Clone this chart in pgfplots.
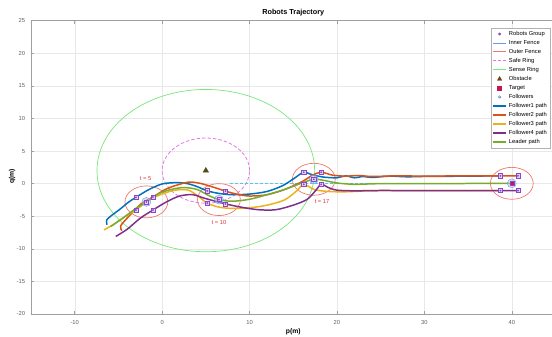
\documentclass[border=0pt]{standalone}
\usepackage{pgfplots}
\pgfplotsset{compat=1.18}
\usepackage{fontspec}
\setmainfont{Liberation Sans}
\definecolor{fone}{RGB}{0,114,189}
\definecolor{ftwo}{RGB}{217,83,25}
\definecolor{fthree}{RGB}{237,177,32}
\definecolor{ffour}{RGB}{126,47,142}
\definecolor{lead}{RGB}{119,172,48}
\definecolor{robotc}{RGB}{140,70,200}
\definecolor{cInner}{RGB}{110,150,235}
\definecolor{cOuter}{RGB}{240,120,110}
\definecolor{cSafe}{RGB}{230,120,230}
\definecolor{cSense}{RGB}{120,230,120}
\definecolor{obst}{RGB}{85,75,20}
\definecolor{targ}{RGB}{200,20,80}
\definecolor{foll}{RGB}{40,120,190}
\definecolor{tlab}{RGB}{225,50,50}
\definecolor{cyanref}{RGB}{80,200,230}
\pgfplotsset{
  mylegline/.style={legend image code/.code={\draw[##1] (0bp,0bp) -- (13bp,0bp);}},
  mylegmark/.style={legend image code/.code={\draw[only marks,##1] plot coordinates {(6.5bp,0bp)};}},
}
\begin{document}
\begin{tikzpicture}
\begin{axis}[
  scale only axis, width=524.5bp, height=293.3bp,
  xmin=-15, xmax=45, ymin=-20, ymax=25,
  xtick={-10,0,...,40}, ytick={-20,-15,...,25},
  grid=major, major grid style={gray!18, line width=0.4pt},
  axis line style={gray!75, line width=0.6pt},
  tick style={gray!75, line width=0.5pt},
  tick align=inside, major tick length=3bp,
  tick label style={font=\fontsize{5.8}{6.5}\selectfont, text=gray!75!black},
  xticklabel style={yshift=-3bp},
  yticklabel style={xshift=-2.5bp},
  /pgf/number format/assume math mode=true,
  xlabel={\textbf{p(m)}}, ylabel={\textbf{q(m)}},
  xlabel style={font=\fontsize{6.8}{7.5}\selectfont, at={(axis description cs:0.5,0)}, anchor=north, yshift=-14bp, inner sep=0pt},
  ylabel style={font=\fontsize{6.8}{7.5}\selectfont, at={(axis description cs:-0.036,0.47)}, anchor=center, inner sep=0pt},
  legend style={at={(1,1)}, anchor=north east, xshift=-5.5bp, yshift=-7.3bp,
    font=\fontsize{5.8}{6.5}\selectfont, draw=gray!60, line width=0.4pt,
    inner sep=1pt, row sep=-0.6pt, cells={anchor=west}},
  clip=true,
]
% rings
\draw[cSense, line width=0.7pt] (axis cs:5,2) ellipse [x radius=12.45, y radius=12.45];
\draw[cSafe, line width=0.8pt, dash pattern=on 3.5bp off 2bp] (axis cs:5,2) ellipse [x radius=5, y radius=5];
\draw[cOuter, line width=0.7pt] (axis cs:-1.8,-2.8) ellipse [x radius=2.45, y radius=2.45];
\draw[cOuter, line width=0.7pt] (axis cs:6.5,-2.45) ellipse [x radius=2.45, y radius=2.45];
\draw[cOuter, line width=0.7pt] (axis cs:17.35,0.67) ellipse [x radius=2.45, y radius=2.45];
\draw[cOuter, line width=0.7pt] (axis cs:40,0.05) ellipse [x radius=2.45, y radius=2.45];
% reference dashed line
\addplot[forget plot, cyanref, line width=0.7pt, dash pattern=on 3bp off 2bp] coordinates {(7.8,0) (40,0)};
% Follower1
\addplot[forget plot, fone, line width=1.5pt, smooth, tension=0.5] coordinates {
(-6.3,-6.3) (-6.35,-5.6) (-5.8,-4.9) (-4.8,-3.9) (-3.9,-2.9) (-3.0,-2.1) (-1.5,-0.9) (0,-0.05) (1.5,0.15) (2.7,0.05) (3.8,-0.35) (5.16,-1.1) (6.5,-1.5) (8,-1.7) (10,-1.6) (12,-1.2) (13.8,-0.3) (15.2,0.9) (16.2,1.75) (17.2,1.35) (18.5,1.0) (20,0.9) (21,1.2) (22,0.9) (23,1.1) (24,0.95) (26,1.15) (28,1.05) (30,1.1) (35,1.15) (38.7,1.2)};
% Follower2
\addplot[forget plot, ftwo, line width=1.5pt, smooth, tension=0.5] coordinates {
(-4.6,-7.2) (-4.75,-6.5) (-3.8,-5.0) (-2.4,-3.1) (-1.05,-2.05) (0.5,-0.8) (2,-0.1) (3.2,0.25) (4.5,0) (6,-0.6) (7.25,-1.15) (8.5,-1.6) (10,-1.9) (12,-1.7) (14,-0.9) (16,0.3) (17.2,1.3) (18.2,1.75) (19.5,1.3) (21,1.15) (22.5,1.25) (24,1.1) (27,1.2) (30,1.15) (35,1.2) (40.7,1.2)};
% Follower3
\addplot[forget plot, fthree, line width=1.5pt, smooth, tension=0.5] coordinates {
(-6.65,-7.1) (-5.5,-6.2) (-4.2,-5.0) (-3.0,-4.05) (-1.5,-2.5) (0,-1.6) (1.5,-1.0) (3,-1.0) (4.2,-2.0) (5.16,-3.0) (6.5,-3.6) (8,-3.8) (10,-3.7) (12,-3.3) (14,-2.5) (15.4,-1.1) (16.2,-0.1) (17.4,-0.9) (19,-1.2) (21,-1.25) (24,-1.1) (30,-1.07) (38.7,-1.07)};
% Follower4
\addplot[forget plot, ffour, line width=1.5pt, smooth, tension=0.5] coordinates {
(-5.3,-8.1) (-4,-7.0) (-2.5,-5.3) (-1.05,-4.05) (0.5,-2.8) (2,-1.9) (3.5,-1.7) (5,-2.3) (7.25,-3.1) (9,-3.6) (11,-4.0) (13,-4.0) (15,-3.3) (16.6,-2.4) (17.6,-1.0) (18.2,-0.1) (19,-0.6) (20,-1.0) (22,-1.1) (25,-1.05) (30,-1.07) (40.7,-1.07)};
% Leader
\addplot[forget plot, lead, line width=1.5pt, smooth, tension=0.5] coordinates {
(-5.9,-6.6) (-4.5,-5.3) (-3,-3.8) (-1.8,-2.8) (-0.5,-1.6) (1,-0.9) (2.5,-0.6) (4,-0.9) (5.3,-1.8) (6.5,-2.45) (8,-2.7) (10,-2.4) (12,-1.7) (14,-0.9) (16,0.1) (17.35,0.67) (18.5,0.5) (20,0.1) (22,-0.1) (25,0) (30,0) (40,0.05)};
% inner fence / followers blobs at leader
\addplot[forget plot, only marks, mark=*, mark size=4.5pt, mark options={draw=cInner, fill=cInner!60, fill opacity=0.45, line width=0.4pt}] coordinates {(-1.8,-2.8) (6.5,-2.45) (17.35,0.67) (40,0.05)};
% robots group squares
\addplot[forget plot, only marks, mark=square*, mark size=2.1pt, mark options={draw=robotc, fill=robotc!25, line width=0.5pt}] coordinates {
(-3.0,-2.1) (-1.05,-2.05) (-3.0,-4.05) (-1.05,-4.05) (-1.8,-2.8)
(5.16,-1.1) (7.25,-1.15) (5.16,-3.0) (7.25,-3.1) (6.5,-2.45)
(16.2,1.75) (18.2,1.75) (16.2,-0.1) (18.2,-0.1) (17.35,0.67)
(38.7,1.2) (40.7,1.2) (38.7,-1.07) (40.7,-1.07)};
\addplot[forget plot, only marks, mark=*, mark size=0.7pt, robotc] coordinates {
(-3.0,-2.1) (-1.05,-2.05) (-3.0,-4.05) (-1.05,-4.05) (-1.8,-2.8)
(5.16,-1.1) (7.25,-1.15) (5.16,-3.0) (7.25,-3.1) (6.5,-2.45)
(16.2,1.75) (18.2,1.75) (16.2,-0.1) (18.2,-0.1) (17.35,0.67)
(38.7,1.2) (40.7,1.2) (38.7,-1.07) (40.7,-1.07)};
% target
\addplot[forget plot, only marks, mark=square*, mark size=2.1pt, mark options={draw=robotc, fill=targ}] coordinates {(40,0.05)};
% obstacle
\addplot[forget plot, only marks, mark=triangle*, mark size=3.2pt, mark options={draw=obst, fill=obst}] coordinates {(5,2)};
% time labels
\node[text=tlab, font=\fontsize{5.8}{6.5}\selectfont] at (axis cs:-1.9,0.85) {t = 5};
\node[text=tlab, font=\fontsize{5.8}{6.5}\selectfont] at (axis cs:6.5,-6.0) {t = 10};
\node[text=tlab, font=\fontsize{5.8}{6.5}\selectfont] at (axis cs:18.3,-2.75) {t = 17};
% legend
\addlegendimage{mylegmark, mark=*, mark size=1.2pt, mark options={draw=robotc, fill=robotc}}
\addlegendentry{Robots Group}
\addlegendimage{mylegline, draw=cInner, line width=0.9pt}
\addlegendentry{Inner Fence}
\addlegendimage{mylegline, draw=cOuter, line width=0.9pt}
\addlegendentry{Outer Fence}
\addlegendimage{mylegline, draw=cSafe, line width=0.9pt, dash pattern=on 3bp off 2bp}
\addlegendentry{Safe Ring}
\addlegendimage{mylegline, draw=cSense, line width=0.9pt}
\addlegendentry{Sense Ring}
\addlegendimage{mylegmark, mark=triangle*, mark size=2.5pt, mark options={draw=obst, fill=obst!60!red}}
\addlegendentry{Obstacle}
\addlegendimage{mylegmark, mark=square*, mark size=2pt, mark options={draw=targ, fill=targ}}
\addlegendentry{Target}
\addlegendimage{mylegmark, mark=o, mark size=1.2pt, mark options={draw=foll, line width=0.5pt}}
\addlegendentry{Followers}
\addlegendimage{mylegline, draw=fone, line width=1.6pt}
\addlegendentry{Follower1 path}
\addlegendimage{mylegline, draw=ftwo, line width=1.6pt}
\addlegendentry{Follower2 path}
\addlegendimage{mylegline, draw=fthree, line width=1.6pt}
\addlegendentry{Follower3 path}
\addlegendimage{mylegline, draw=ffour, line width=1.6pt}
\addlegendentry{Follower4 path}
\addlegendimage{mylegline, draw=lead, line width=1.6pt}
\addlegendentry{Leader path}
\end{axis}
\node[anchor=base, font=\fontsize{7.3}{8}\selectfont\bfseries, inner sep=0pt] at ([yshift=6.5bp]current axis.north) {Robots Trajectory};
\pgfresetboundingbox
\path[use as bounding box] ([shift={(-31bp,-23bp)}]current axis.south west) rectangle ([shift={(-3.5bp,20.7bp)}]current axis.north east);
\end{tikzpicture}
\end{document}
